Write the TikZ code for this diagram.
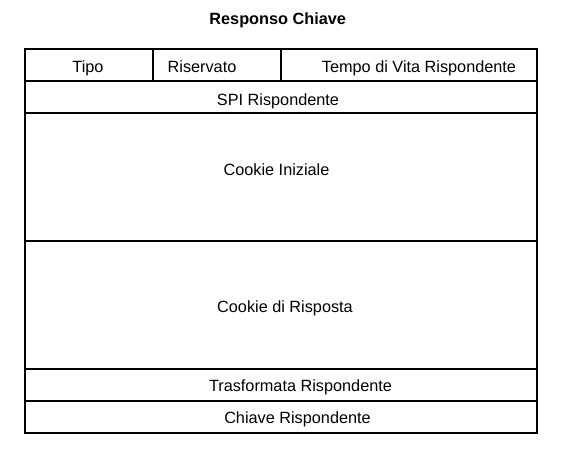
\documentclass[tikz,border=0pt]{standalone}
\usepackage{fontspec}
\setmainfont{Liberation Sans}
\begin{document}
\begin{tikzpicture}[x=0.75pt,y=-0.75pt,
  cell/.style={draw=black,line width=1.5pt},
  lbl/.style={inner sep=0pt,font=\fontsize{12.2pt}{14pt}\selectfont,anchor=base},
  ttl/.style={inner sep=0pt,font=\bfseries\fontsize{12.2pt}{14pt}\selectfont,anchor=base}]
\useasboundingbox (0,0) rectangle (561,456);
\node[ttl] (title) at (277.7,25) {Responso Chiave};
% grid
\draw[cell] (25,49) rectangle (537,433);
\draw[cell] (25,81) -- (537,81);
\draw[cell] (25,113) -- (537,113);
\draw[cell] (25,241) -- (537,241);
\draw[cell] (25,369) -- (537,369);
\draw[cell] (25,401) -- (537,401);
\draw[cell] (153,49) -- (153,81);
\draw[cell] (281,49) -- (281,81);
% labels
\node[lbl] (tipo) at (88,72.5) {Tipo};
\node[lbl] (ris) at (202,72.5) {Riservato};
\node[lbl] (tempo) at (419,72.5) {Tempo di Vita Rispondente};
\node[lbl] (spi) at (278,106) {SPI Rispondente};
\node[lbl] (ci) at (276.5,176) {Cookie Iniziale};
\node[lbl] (cr) at (285,312.5) {Cookie di Risposta};
\node[lbl] (tr) at (300.5,391.5) {Trasformata Rispondente};
\node[lbl] (ch) at (297.5,423) {Chiave Rispondente};
\end{tikzpicture}
\end{document}
